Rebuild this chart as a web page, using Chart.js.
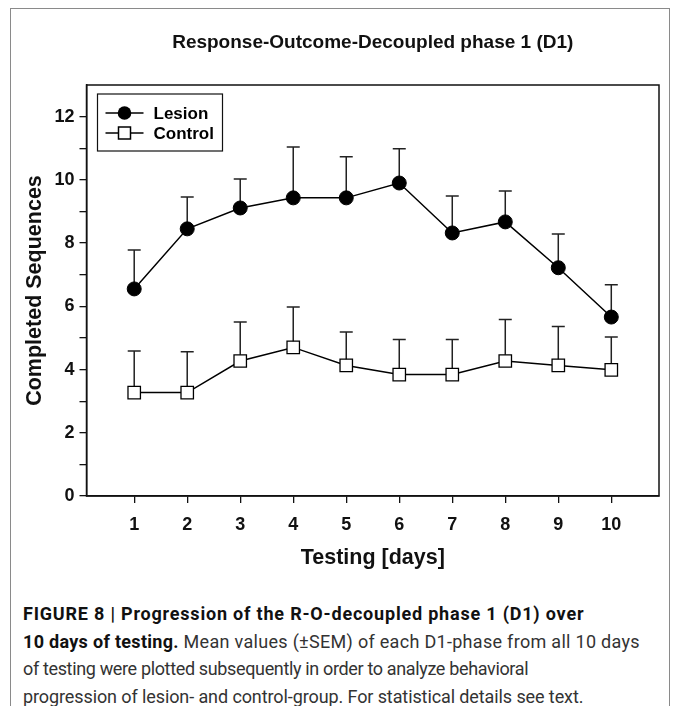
<!DOCTYPE html>
<html>
<head>
<meta charset="utf-8">
<script src="https://cdn.jsdelivr.net/npm/chart.js@4.4.1/dist/chart.umd.min.js"></script>
<style>
    body { margin: 0; background: #fff; width: 675px; height: 706px; overflow: hidden; position: relative; }
    #frame { position: absolute; left: 10px; top: 8px; width: 658px; height: 760px; border: 1px solid #8a8a8a; border-bottom: none; }
    #chartBox { position: absolute; left: 0; top: 0; width: 675px; height: 600px; }
    #caption {
        position: absolute; left: 23px; top: 600px; width: 645px;
        font-family: "Roboto", "Liberation Sans", sans-serif;
        font-size: 18px; line-height: 27.5px; color: #333; white-space: nowrap;
    }
    #caption div { height: 27.5px; }
    #caption b { color: #111; }
</style>
</head>
<body>
<div id="frame"></div>
<div id="chartBox"><canvas id="chart" width="675" height="600"></canvas></div>
<div id="caption">
    <div style="letter-spacing: 0.8px"><b>FIGURE 8 | Progression of the R-O-decoupled phase 1 (D1) over</b></div>
    <div style="letter-spacing: 0.3px"><b>10 days of testing.</b> Mean values (±SEM) of each D1-phase from all 10 days</div>
    <div style="letter-spacing: -0.35px">of testing were plotted subsequently in order to analyze behavioral</div>
    <div style="letter-spacing: -0.1px">progression of lesion- and control-group. For statistical details see text.</div>
</div>

<script>
// Data
const days = [1, 2, 3, 4, 5, 6, 7, 8, 9, 10];
const lesionMean = [6.55, 8.45, 9.11, 9.43, 9.43, 9.90, 8.32, 8.67, 7.22, 5.66];
const lesionSem = [1.23, 1.01, 0.92, 1.61, 1.30, 1.08, 1.17, 0.98, 1.07, 1.02];
const controlMean = [3.27, 3.27, 4.27, 4.70, 4.13, 3.84, 3.84, 4.27, 4.13, 3.99];
const controlSem = [1.32, 1.29, 1.23, 1.28, 1.06, 1.11, 1.11, 1.31, 1.23, 1.04];
const yTickLabels = [0, 2, 4, 6, 8, 10, 12];

const boldFont = '"Liberation Sans", Arial, sans-serif';

// Upward-only error bars with caps, drawn under the markers
const errorBars = {
    id: 'errorBars',
    beforeDatasetsDraw(chart) {
        const { ctx, scales: { x, y } } = chart;
        ctx.save();
        ctx.strokeStyle = '#222';
        ctx.lineWidth = 1.5;
        chart.data.datasets.forEach(ds => {
            ds.data.forEach((p, i) => {
                const px = x.getPixelForValue(p.x);
                const py = y.getPixelForValue(p.y);
                const top = y.getPixelForValue(p.y + ds.sem[i]);
                ctx.beginPath();
                ctx.moveTo(px, py);
                ctx.lineTo(px, top);
                ctx.moveTo(px - 6.5, top);
                ctx.lineTo(px + 6.5, top);
                ctx.stroke();
            });
        });
        ctx.restore();
    }
};

// Box around the plot + legend in upper-left corner
const frameAndLegend = {
    id: 'frameAndLegend',
    afterDatasetsDraw(chart) {
        const { ctx, chartArea: a } = chart;
        ctx.save();
        ctx.strokeStyle = '#111';
        ctx.lineWidth = 1.5;
        ctx.strokeRect(a.left, a.top, a.right - a.left, a.bottom - a.top);

        // legend box
        const lx = a.left + 11, ly = a.top + 9;
        ctx.lineWidth = 1.2;
        ctx.strokeRect(lx, ly, 125, 57);
        chart.data.datasets.forEach((ds, i) => {
            const cy = ly + 19 + i * 20;
            ctx.strokeStyle = '#000';
            ctx.lineWidth = 1.5;
            ctx.beginPath();
            ctx.moveTo(lx + 8, cy);
            ctx.lineTo(lx + 46, cy);
            ctx.stroke();
            ctx.beginPath();
            if (ds.pointStyle === 'circle') {
                ctx.fillStyle = '#000';
                ctx.arc(lx + 27, cy, 6.8, 0, Math.PI * 2);
                ctx.fill();
            } else {
                ctx.fillStyle = '#fff';
                ctx.rect(lx + 21, cy - 6, 12, 12);
                ctx.fill();
                ctx.stroke();
            }
            ctx.fillStyle = '#000';
            ctx.font = 'bold 17px ' + boldFont;
            ctx.textBaseline = 'middle';
            ctx.fillText(ds.label, lx + 56, cy + 1);
        });
        ctx.restore();
    }
};

const toPoints = (means) => days.map((d, i) => ({ x: d, y: means[i] }));

new Chart(document.getElementById('chart'), {
    type: 'line',
    data: {
        datasets: [{
            label: 'Lesion',
            data: toPoints(lesionMean),
            sem: lesionSem,
            borderColor: '#000',
            borderWidth: 1.5,
            pointStyle: 'circle',
            pointRadius: 7,
            pointBackgroundColor: '#000',
            pointBorderColor: '#000',
            pointBorderWidth: 1
        }, {
            label: 'Control',
            data: toPoints(controlMean),
            sem: controlSem,
            borderColor: '#000',
            borderWidth: 1.5,
            pointStyle: 'rect',
            pointRadius: 8.8,
            pointBackgroundColor: '#fff',
            pointBorderColor: '#000',
            pointBorderWidth: 1.3
        }]
    },
    options: {
        responsive: false,
        animation: false,
        devicePixelRatio: 1,
        layout: { padding: { left: 0, right: 16, top: 0, bottom: 0 } },
        plugins: {
            legend: { display: false },
            tooltip: { enabled: false },
            title: {
                display: true,
                fullSize: false,
                text: 'Response-Outcome-Decoupled phase 1 (D1)',
                color: '#111',
                font: { family: boldFont, size: 19, weight: 'bold', lineHeight: 1.2 },
                padding: { top: 31.6, bottom: 30.6 }
            }
        },
        scales: {
            x: {
                type: 'linear',
                min: 0.1,
                max: 10.9,
                afterBuildTicks: (scale) => {
                    scale.ticks = days.map(d => ({ value: d }));
                },
                afterFit: (scale) => { scale.height = 104; },
                ticks: {
                    color: '#111',
                    padding: 11,
                    font: { family: boldFont, size: 18, weight: 'bold' },
                    callback: (v) => v
                },
                grid: { drawOnChartArea: false, drawTicks: true, tickLength: 7, color: '#111', lineWidth: 1.3 },
                border: { display: true, color: '#111', width: 1.5 },
                title: {
                    display: true,
                    text: 'Testing [days]',
                    color: '#111',
                    font: { family: boldFont, size: 21.5, weight: 'bold', lineHeight: 1.2 },
                    padding: { top: 10, bottom: 29 }
                }
            },
            y: {
                type: 'linear',
                min: 0,
                max: 13,
                afterBuildTicks: (scale) => {
                    const t = [];
                    for (let v = 0; v <= 12; v++) t.push({ value: v });
                    scale.ticks = t;
                },
                afterFit: (scale) => { scale.width = 86.5; },
                ticks: {
                    color: '#111',
                    padding: 5,
                    font: { family: boldFont, size: 18, weight: 'bold' },
                    callback: (v) => yTickLabels.includes(v) ? v : ''
                },
                grid: {
                    drawOnChartArea: false, drawTicks: true, color: '#111', lineWidth: 1.3,
                    tickLength: 7
                },
                border: { display: true, color: '#111', width: 1.5 },
                title: {
                    display: true,
                    text: 'Completed Sequences',
                    color: '#111',
                    font: { family: boldFont, size: 21.5, weight: 'bold', lineHeight: 1.2 },
                    padding: { top: 22, bottom: 0 }
                }
            }
        }
    },
    plugins: [errorBars, frameAndLegend]
});
</script>
</body>
</html>
